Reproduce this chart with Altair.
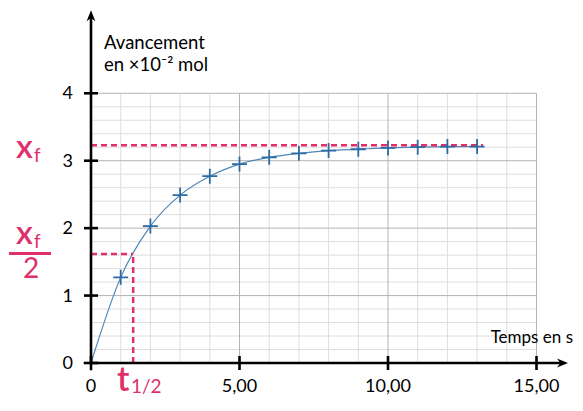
import altair as alt
import pandas as pd

# ---- data ----
t_s = [0, 1, 2, 3, 4, 5, 6, 7, 8, 9, 10, 11, 12, 13]
avancement = [0, 1.27, 2.03, 2.49, 2.77, 2.95, 3.05, 3.11, 3.15, 3.17, 3.19, 3.20, 3.21, 3.21]
xf = 3.23
xf_line_end = 13.2
t_half = 1.42
x_ticks = [0, 5, 10, 15]
x_tick_labels = ["0", "5,00", "10,00", "15,00"]
y_ticks = [0, 1, 2, 3, 4]
y_tick_labels = ["0", "1", "2", "3", "4"]
grid_x_minor = [1, 2, 3, 4, 6, 7, 8, 9, 11, 12, 13, 14]
grid_x_major = [5, 10, 15]
grid_y_minor = [0.2, 0.4, 0.6, 0.8, 1.2, 1.4, 1.6, 1.8, 2.2, 2.4, 2.6, 2.8,
                3.2, 3.4, 3.6, 3.8]
grid_y_major = [1, 2, 3, 4]
grid_x_extent = [0, 15]
grid_y_extent = [0, 4]
y_title_lines = ["Avancement", "en \u00d710\u207b\u00b2 mol"]
x_title = "Temps en s"
xf_main, xf_sub = "x", "f"
half_den = "2"
t_main, t_sub = "t", "1/2"

# ---- layout ----
PX_X = 29.7
PX_Y = 67.43
X_MAX = 16.1
H = 354
W = round(X_MAX * PX_X)
X_MAX = W / PX_X
Y_MAX = H / PX_Y
x_tip = (568 - 91) / PX_X
y_tip = Y_MAX - 0.02

FONT = "Lato"
PINK = "#e0306a"
BLUE_LINE = "#4f86b5"
BLUE_MARK = "#2b6aa3"

xs = alt.Scale(domain=[0, X_MAX], nice=False, zero=False, padding=0)
ys = alt.Scale(domain=[0, Y_MAX], nice=False, zero=False, padding=0)

def X(f):
    return alt.X(f, scale=xs, axis=None)

def Y(f):
    return alt.Y(f, scale=ys, axis=None)

# grid
gx_minor = pd.DataFrame({"g": grid_x_minor, "a": grid_y_extent[0], "b": grid_y_extent[1]})
gx_major = pd.DataFrame({"g": grid_x_major, "a": grid_y_extent[0], "b": grid_y_extent[1]})
gy_minor = pd.DataFrame({"g": grid_y_minor, "a": grid_x_extent[0], "b": grid_x_extent[1]})
gy_major = pd.DataFrame({"g": grid_y_major, "a": grid_x_extent[0], "b": grid_x_extent[1]})

def vgrid(df, color):
    return alt.Chart(df).mark_rule(color=color, strokeWidth=1).encode(
        x=X("g:Q"), y=Y("a:Q"), y2="b:Q")

def hgrid(df, color):
    return alt.Chart(df).mark_rule(color=color, strokeWidth=1).encode(
        y=Y("g:Q"), x=X("a:Q"), x2="b:Q")

grid = (vgrid(gx_minor, "#dedede") + hgrid(gy_minor, "#dedede")
        + vgrid(gx_major, "#b4b4b4") + hgrid(gy_major, "#b4b4b4"))

df = pd.DataFrame({"t": t_s, "x": avancement})

curve = alt.Chart(df).mark_line(interpolate="monotone", color=BLUE_LINE, strokeWidth=1.2).encode(
    x=X("t:Q"), y=Y("x:Q"))

markers = alt.Chart(df).mark_point(
    shape="M-1,0L1,0M0,-1L0,1", size=225, filled=False, color=BLUE_MARK,
    strokeWidth=1.8, opacity=1,
).encode(x=X("t:Q"), y=Y("x:Q"))

# dashed guides
h_dash = pd.DataFrame({"y": [xf, xf / 2], "x0": [0, 0], "x1": [xf_line_end, t_half]})
v_dash = pd.DataFrame({"x": [t_half], "y0": [0], "y1": [xf / 2]})
dash_h = alt.Chart(h_dash).mark_rule(color=PINK, strokeWidth=2.5, strokeDash=[6, 4]).encode(
    y=Y("y:Q"), x=X("x0:Q"), x2="x1:Q")
dash_v = alt.Chart(v_dash).mark_rule(color=PINK, strokeWidth=2.5, strokeDash=[6, 4]).encode(
    x=X("x:Q"), y=Y("y0:Q"), y2="y1:Q")

# axes lines, ticks, arrows
xaxis_df = pd.DataFrame({"a": [0], "b": [x_tip - 5 / PX_X], "y": [0]})
yaxis_df = pd.DataFrame({"a": [0], "b": [y_tip - 5 / PX_Y], "x": [0]})
x_line = alt.Chart(xaxis_df).mark_rule(color="black", strokeWidth=2.6).encode(
    x=X("a:Q"), x2="b:Q", y=Y("y:Q"))
y_line = alt.Chart(yaxis_df).mark_rule(color="black", strokeWidth=2.6).encode(
    y=Y("a:Q"), y2="b:Q", x=X("x:Q"))

x_arrow = alt.Chart(pd.DataFrame({"x": [x_tip], "y": [0]})).mark_point(
    shape="M0,0L-2,-0.8L-1.4,0L-2,0.8Z", size=121, filled=True, color="black", opacity=1
).encode(x=X("x:Q"), y=Y("y:Q"))
y_arrow = alt.Chart(pd.DataFrame({"x": [0], "y": [y_tip]})).mark_point(
    shape="M0,0L-0.8,2L0,1.4L0.8,2Z", size=121, filled=True, color="black", opacity=1
).encode(x=X("x:Q"), y=Y("y:Q"))

xt_df = pd.DataFrame({"x": x_ticks, "y": 0, "label": x_tick_labels})
yt_df = pd.DataFrame({"y": y_ticks, "x": 0, "label": y_tick_labels})
x_tk = alt.Chart(xt_df).mark_tick(orient="vertical", size=14, thickness=2.6, color="black", opacity=1).encode(
    x=X("x:Q"), y=Y("y:Q"))
y_tk = alt.Chart(yt_df).mark_tick(orient="horizontal", size=14, thickness=2.6, color="black", opacity=1).encode(
    x=X("x:Q"), y=Y("y:Q"))

x_lab = alt.Chart(xt_df).mark_text(
    font=FONT, fontSize=18, color="black", align="center", baseline="alphabetic", dy=29
).encode(x=X("x:Q"), y=Y("y:Q"), text="label:N")
y_lab = alt.Chart(yt_df).mark_text(
    font=FONT, fontSize=18, color="black", align="right", baseline="middle", dx=-18, dy=1
).encode(x=X("x:Q"), y=Y("y:Q"), text="label:N")

# texts
def txt(label, x, y, size, color="black", align="left", weight="normal"):
    return alt.Chart(pd.DataFrame({"label": [label]})).mark_text(
        font=FONT, fontSize=size, color=color, align=align, baseline="alphabetic",
        fontWeight=weight,
    ).encode(x=alt.value(x), y=alt.value(y), text="label:N")

texts = (
    txt(y_title_lines[0], 13, 40, 18.5)
    + txt(y_title_lines[1], 13, 62, 18.5)
    + txt(x_title, 482, 334, 17, align="right")
    + txt(xf_main, -75, 149, 33, PINK, weight=600)
    + txt(xf_sub, -57, 153, 19, PINK)
    + txt(xf_main, -75, 235, 33, PINK, weight=600)
    + txt(xf_sub, -57, 239, 19, PINK)
    + txt(half_den, -60, 269, 28, PINK, align="center")
    + txt(t_main, 26, 382, 34, PINK, weight=600)
    + txt(t_sub, 40, 384, 19, PINK)
)
frac_bar = alt.Chart(pd.DataFrame({"label": ["bar"]})).mark_rule(color=PINK, strokeWidth=2.8).encode(
    x=alt.value(-82), x2=alt.value(-40), y=alt.value(244.5))

chart = alt.layer(
    grid, curve, dash_h, dash_v, markers,
    x_line, y_line, x_arrow, y_arrow, x_tk, y_tk, x_lab, y_lab, texts, frac_bar,
).properties(
    width=W, height=H, autosize="none",
    padding={"left": 83, "top": 1, "right": 567 - 83 - W, "bottom": 35},
    background="white",
).configure_view(stroke=None)

chart.save("out.html", embed_options={"renderer": "svg", "actions": False})
